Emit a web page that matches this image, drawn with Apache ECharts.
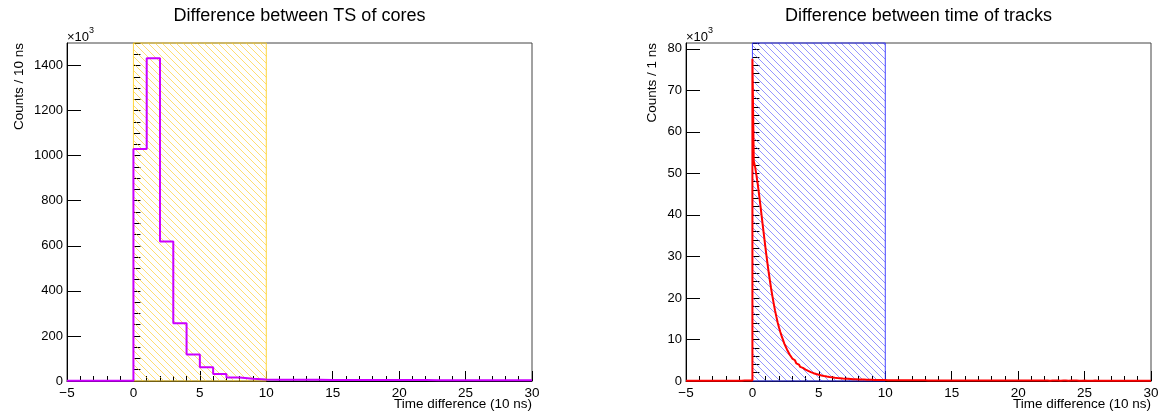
<!DOCTYPE html>
<html><head><meta charset="utf-8">
<script src="https://cdn.jsdelivr.net/npm/echarts@6/dist/echarts.min.js"></script>
<style>html,body{margin:0;padding:0;background:#fff}#c{width:1162px;height:415px}</style>
</head><body><div id="c"></div>
<script>
// ---------- data ----------
const xRange = [-5, 30];
const xTicks = [-5, 0, 5, 10, 15, 20, 25, 30];
const leftTitle = 'Difference between TS of cores';
const rightTitle = 'Difference between time of tracks';
const leftYTitle = 'Counts / 10 ns';
const rightYTitle = 'Counts / 1 ns';
const xTitle = 'Time difference (10 ns)';
const leftYTicks = [0, 200, 400, 600, 800, 1000, 1200, 1400];
const rightYTicks = [0, 10, 20, 30, 40, 50, 60, 70, 80];
const leftYMax = 1500;
const rightYMax = 81.4;
const windowRange = [0, 10];

// left histogram, bins of width 1 from -5 (x10^3 counts)
const leftBinStart = -5, leftBinWidth = 1;
const leftCounts = [
  1, 1, 1, 1, 1,
  1030, 1432, 619, 256, 118, 61, 31, 16, 10, 7,
  6, 5.5, 5, 5, 4.5, 4.5, 4.5, 4, 4, 4, 4, 4, 3.5, 3.5, 3.5, 3.5, 3.5, 3, 3, 3
];

// right histogram, bins of width 0.1 from -5 (x10^3 counts)
const rightBinStart = -5, rightBinWidth = 0.1;
const rightNeg = [
  0.06,0.07,0.06,0.07,0.06,0.07,0.07,0.06,0.07,0.07,
  0.07,0.07,0.06,0.07,0.07,0.07,0.07,0.08,0.07,0.07,
  0.07,0.08,0.07,0.08,0.07,0.08,0.08,0.07,0.08,0.08,
  0.08,0.08,0.08,0.09,0.08,0.08,0.09,0.08,0.09,0.09,
  0.09,0.09,0.09,0.1,0.09,0.1,0.1,0.1,0.11,0.12
];
const rightMain = [
  77.6,53.0,51.6,49.6,47.4,44.9,42.3,39.6,36.9,34.2,
  31.6,29.1,26.7,24.5,22.4,20.5,18.7,17.0,15.5,14.1,
  12.9,11.8,10.8,9.9,9.0,8.3,7.6,7.0,6.4,5.9,
  5.4,5.0,4.6,4.25,3.95,3.65,3.4,3.15,2.95,2.75,
  2.6,2.42,2.28,2.14,2.0,1.88,1.77,1.67,1.58,1.5,
  1.42,1.34,1.27,1.2,1.14,1.08,1.03,0.98,0.93,0.89,
  0.85,0.81,0.77,0.74,0.71,0.68,0.65,0.62,0.6,0.57,
  0.55,0.53,0.51,0.49,0.47,0.45,0.44,0.42,0.41,0.39,
  0.38,0.37,0.36,0.35,0.34,0.33,0.32,0.31,0.3,0.29,
  0.28,0.27,0.27,0.26,0.25,0.25,0.24,0.23,0.23,0.22
];
const rightTail = [
  0.21,0.21,0.2,0.21,0.2,0.2,0.19,0.2,0.19,0.19,
  0.19,0.18,0.19,0.18,0.18,0.18,0.17,0.18,0.17,0.17,
  0.17,0.17,0.16,0.17,0.16,0.16,0.16,0.16,0.15,0.16,
  0.15,0.15,0.15,0.15,0.15,0.14,0.15,0.14,0.14,0.14,
  0.14,0.14,0.14,0.13,0.14,0.13,0.13,0.13,0.13,0.13,
  0.13,0.13,0.12,0.13,0.12,0.12,0.12,0.12,0.12,0.12,
  0.12,0.12,0.12,0.11,0.12,0.12,0.11,0.12,0.11,0.11,
  0.11,0.12,0.11,0.11,0.11,0.11,0.11,0.11,0.11,0.11,
  0.11,0.11,0.11,0.1,0.11,0.11,0.1,0.11,0.1,0.11,
  0.1,0.11,0.1,0.1,0.11,0.1,0.1,0.1,0.1,0.11,
  0.1,0.1,0.1,0.1,0.1,0.1,0.1,0.1,0.1,0.1,
  0.1,0.1,0.1,0.1,0.1,0.1,0.1,0.1,0.1,0.1,
  0.1,0.1,0.1,0.09,0.1,0.1,0.1,0.1,0.09,0.1,
  0.1,0.09,0.1,0.1,0.09,0.1,0.1,0.09,0.1,0.1,
  0.09,0.1,0.09,0.1,0.09,0.09,0.1,0.09,0.09,0.1,
  0.09,0.09,0.1,0.09,0.09,0.09,0.09,0.1,0.09,0.09,
  0.09,0.09,0.09,0.09,0.09,0.09,0.09,0.09,0.09,0.09,
  0.09,0.09,0.09,0.09,0.08,0.09,0.09,0.09,0.09,0.09,
  0.08,0.09,0.09,0.09,0.08,0.09,0.09,0.08,0.09,0.09,
  0.08,0.09,0.08,0.09,0.09,0.08,0.09,0.08,0.09,0.08
];
const rightCounts = rightNeg.concat(rightMain, rightTail);

// ---------- chart ----------
const FONT = '"Liberation Sans", Arial, Helvetica, sans-serif';
function stepData(start, w, vals) {
  const d = vals.map((v, i) => [+(start + i * w).toFixed(4), v]);
  d.push([+(start + vals.length * w).toFixed(4), vals[vals.length - 1]]);
  return d;
}
function hatch(color) {
  const s = 7;
  const c = document.createElement('canvas');
  c.width = s; c.height = s;
  const g = c.getContext('2d');
  g.strokeStyle = color; g.lineWidth = 1;
  g.beginPath();
  g.moveTo(0, 0); g.lineTo(s, s);
  g.moveTo(-1, s - 1); g.lineTo(1, s + 1);
  g.moveTo(s - 1, -1); g.lineTo(s + 1, 1);
  g.stroke();
  return c;
}
const minus = v => String(v).replace('-', '\u2212');
const plain = v => String(v);

function xAxisDef(gi) {
  return {
    type: 'value', gridIndex: gi, min: xRange[0], max: xRange[1], interval: xTicks[1] - xTicks[0],
    axisLine: { show: true, onZero: false, lineStyle: { color: '#000', width: 1 } },
    axisTick: { show: true, inside: true, length: 10, lineStyle: { color: '#000' } },
    minorTick: { show: true, splitNumber: 5, length: 5, lineStyle: { color: '#000' } },
    axisLabel: { color: '#000', fontSize: 13.5, fontFamily: FONT, margin: 5, formatter: minus },
    splitLine: { show: false }
  };
}
function yMajor(gi, max, ticks) {
  return {
    type: 'value', gridIndex: gi, min: 0, max: max, interval: ticks[1] - ticks[0], position: 'left',
    axisLine: { show: true, onZero: false, lineStyle: { color: '#000', width: 1 } },
    axisTick: { show: true, inside: true, length: 14, lineStyle: { color: '#000' } },
    axisLabel: { color: '#000', fontSize: 13, fontFamily: FONT, margin: 4, showMaxLabel: false, formatter: plain },
    splitLine: { show: false }
  };
}
function yMinor(gi, max, step) {
  return {
    type: 'value', gridIndex: gi, min: 0, max: max, interval: step, position: 'left', offset: 0,
    axisLine: { show: false },
    axisTick: { show: true, inside: true, length: 7, lineStyle: { color: '#000' } },
    axisLabel: { show: false },
    splitLine: { show: false }
  };
}
function windowSeries(xi, yi, max, lineColor, borderColor) {
  return {
    type: 'line', xAxisIndex: xi, yAxisIndex: yi, data: [], z: 1, silent: true,
    markArea: {
      silent: true,
      itemStyle: { color: { image: hatch(lineColor), repeat: 'repeat' }, borderColor: borderColor, borderWidth: 1, opacity: 1 },
      emphasis: { disabled: true },
      label: { show: false },
      data: [[{ xAxis: windowRange[0], yAxis: 0 }, { xAxis: windowRange[1], yAxis: max }]]
    }
  };
}
function text(x, y, t, size, align, vAlign, extra) {
  return Object.assign({
    type: 'text', x: x, y: y, silent: true,
    style: { text: t, fontSize: size, fontFamily: FONT, fill: '#000', align: align, verticalAlign: vAlign }
  }, extra || {});
}

const chart = echarts.init(document.getElementById('c'), null, { renderer: 'canvas' });
chart.setOption({
  animation: false,
  backgroundColor: '#fff',
  grid: [
    { left: 67, right: 630, top: 43, bottom: 34, show: true, borderColor: '#444', borderWidth: 1, backgroundColor: 'transparent' },
    { left: 686, right: 11, top: 43, bottom: 34, show: true, borderColor: '#444', borderWidth: 1, backgroundColor: 'transparent' }
  ],
  xAxis: [xAxisDef(0), xAxisDef(1)],
  yAxis: [
    yMajor(0, leftYMax, leftYTicks), yMinor(0, leftYMax, 50),
    yMajor(1, rightYMax, rightYTicks), yMinor(1, rightYMax, 2)
  ],
  series: [
    windowSeries(0, 0, leftYMax, 'rgba(255,205,40,0.65)', 'rgba(255,210,40,0.9)'),
    {
      type: 'line', xAxisIndex: 0, yAxisIndex: 0, step: 'end', symbol: 'none', z: 3, silent: true,
      lineStyle: { color: '#cc00ff', width: 2 },
      data: stepData(leftBinStart, leftBinWidth, leftCounts)
    },
    windowSeries(1, 2, rightYMax, 'rgba(80,80,255,0.6)', 'rgba(40,40,255,0.85)'),
    {
      type: 'line', xAxisIndex: 1, yAxisIndex: 2, step: 'end', symbol: 'none', z: 3, silent: true,
      lineStyle: { color: '#ff0000', width: 2 },
      data: stepData(rightBinStart, rightBinWidth, rightCounts)
    }
  ],
  graphic: [
    text(299.5, 16, leftTitle, 18, 'center', 'middle'),
    text(918.5, 16, rightTitle, 18, 'center', 'middle'),
    text(19, 43, leftYTitle, 13.5, 'right', 'middle', { rotation: Math.PI / 2 }),
    text(652, 43, rightYTitle, 13.5, 'right', 'middle', { rotation: Math.PI / 2 }),
    text(532, 404, xTitle, 13.5, 'right', 'middle'),
    text(1151, 404, xTitle, 13.5, 'right', 'middle'),
    text(67, 37, '\u00d710', 13, 'left', 'middle'),
    text(89, 31, '3', 9, 'left', 'middle'),
    text(686, 37, '\u00d710', 13, 'left', 'middle'),
    text(708, 31, '3', 9, 'left', 'middle')
  ]
});
</script>
</body></html>
